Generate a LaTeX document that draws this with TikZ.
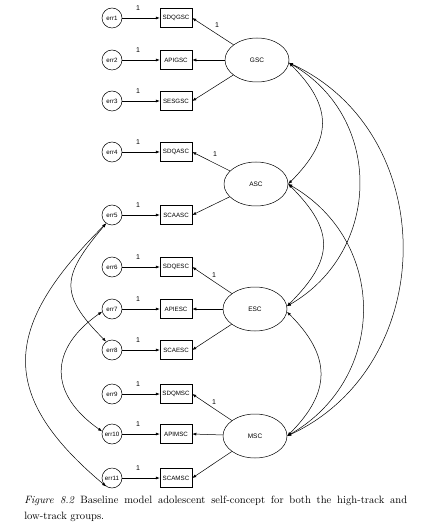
\documentclass[tikz,border=0pt]{standalone}
\usepackage{fontspec}
\newfontfamily\amosfont{Liberation Sans}
\usepackage{tikz}
\usetikzlibrary{calc}
\usetikzlibrary{shapes.geometric}
\usetikzlibrary{arrows.meta}

\begin{document}
\begin{tikzpicture}[x=1pt, y=1pt, line width=0.5pt,
    >={Latex[length=4pt,width=3pt]},
    errv/.style={circle, draw, minimum size=20pt, inner sep=0pt,
      font=\amosfont\fontsize{6.2}{7}\selectfont},
    obsv/.style={rectangle, draw, minimum width=32pt, minimum height=19pt,
      inner sep=1pt, font=\amosfont\fontsize{6.2}{7}\selectfont},
    latv/.style={ellipse, draw, minimum width=64pt, minimum height=44pt,
      font=\amosfont\fontsize{6.5}{7}\selectfont},
    wt/.style={inner sep=0pt, font=\amosfont\fontsize{7}{8}\selectfont}]
    \useasboundingbox (0,0) rectangle (426,-526);

    \foreach \i/\v/\y in {1/SDQGSC/18, 2/APIGSC/60, 3/SESGSC/101,
      4/SDQASC/152, 5/SCAASC/215, 6/SDQESC/267, 7/APIESC/309,
      8/SCAESC/350, 9/SDQMSC/394, 10/APIMSC/434, 11/SCAMSC/478}{
      \node[errv] (e\i) at (112,-\y) {err\i};
      \node[obsv] (o\i) at (176,-\y) {\v};
      \draw[->] (e\i) -- (o\i);
      \node[wt] (w\i) at (138,-\y+10) {1};
    }

    \foreach \l/\x/\y in {GSC/257/60, ASC/256/184, ESC/255/309, MSC/255/436}{
      \node[latv] (\l) at (\x,-\y) {\l};
    }

    \foreach \l/\k in {GSC/1,GSC/2,GSC/3,ASC/4,ASC/5,ESC/6,ESC/7,ESC/8,
      MSC/9,MSC/10,MSC/11}{
      \draw[->] (\l) -- (o\k.east);
    }
    \foreach \l/\x/\y in {GSC/217/25, ASC/215/154, ESC/214/275, MSC/214/402}{
      \node[wt] (f\l) at (\x,-\y) {1};
    }

    \draw[<->] (GSC.-5) to[out=-45,in=45,looseness=1.32] (ASC.east);
    \draw[<->] (GSC.-5) to[out=-30,in=30,looseness=1.15] (ESC.5);
    \draw[<->] (GSC.-5) to[out=-25,in=25,looseness=1.15] (MSC.east);
    \draw[<->] (ASC.east) to[out=-45,in=45,looseness=1.39] (ESC.5);
    \draw[<->] (ASC.east) to[out=-30,in=30,looseness=1.17] (MSC.east);
    \draw[<->] (ESC.-5) to[out=-45,in=45,looseness=1.29] (MSC.east);

    \draw[<->] (e5.235) to[out=230,in=135,looseness=1.48] (e8.125);
    \draw[<->] (e7.195) to[out=215,in=145,looseness=1.4] (e10.165);
    \draw[<->] (e5.235) to[out=225,in=140,looseness=1.41] (e11.235);

    \node[anchor=north west, text width=383pt, align=justify, inner sep=0pt,
      font=\fontsize{10.6}{15.5}\selectfont] (cap) at (24,-496)
      {\textit{Figure 8.2} Baseline model adolescent self-concept for both the
      high-track and\linebreak low-track groups.};

  \end{tikzpicture}
\end{document}
